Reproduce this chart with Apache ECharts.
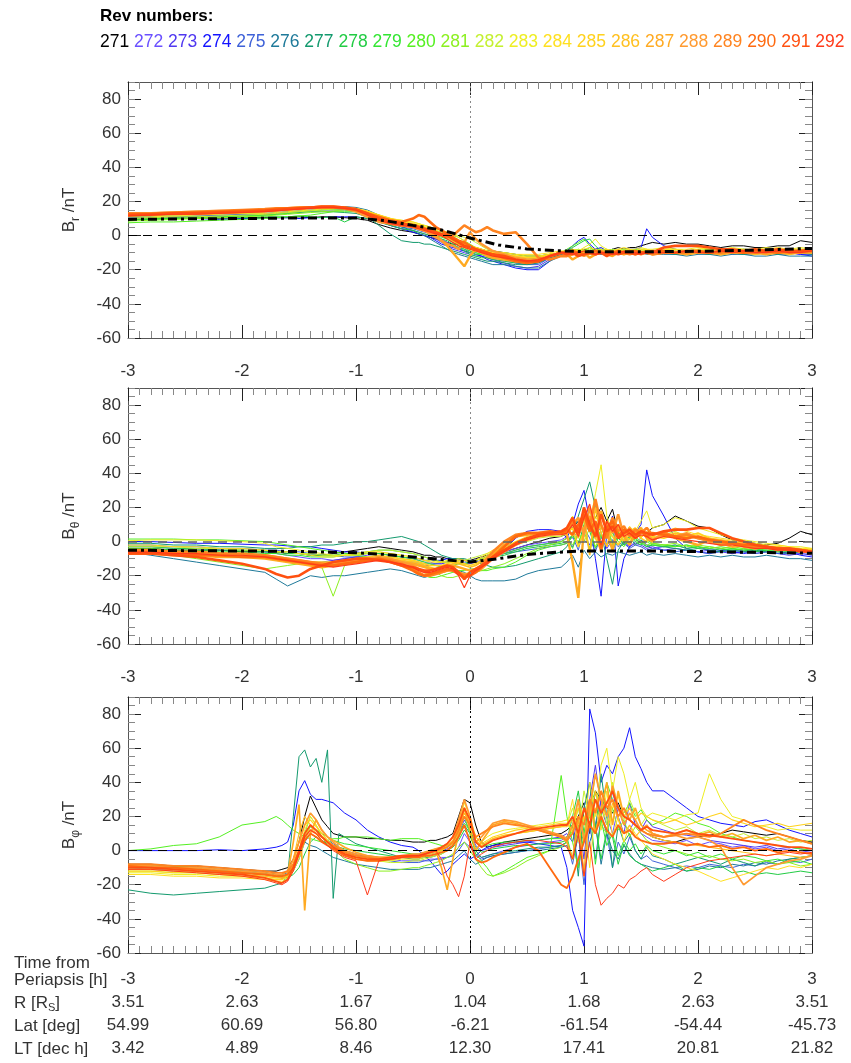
<!DOCTYPE html>
<html><head><meta charset="utf-8">
<script src="https://cdn.jsdelivr.net/npm/echarts/dist/echarts.min.js"></script>
<style>html,body{margin:0;padding:0;background:#fff}#c{width:851px;height:1063px}</style>
</head><body><div id="c"></div><script>
// ---------- time grids (hours from periapsis) ----------
const T12 = [-3,-2.8,-2.6,-2.4,-2.2,-2,-1.8,-1.7,-1.6,-1.5,-1.4,-1.3,-1.2,-1.1,-1,-0.9,-0.8,-0.7,-0.6,-0.5,-0.45,-0.4,-0.35,-0.3,-0.25,-0.2,-0.15,-0.1,-0.05,0,0.05,0.1,0.15,0.2,0.3,0.4,0.5,0.6,0.7,0.8,0.85,0.9,0.95,1,1.05,1.1,1.15,1.2,1.25,1.3,1.35,1.4,1.45,1.5,1.55,1.6,1.7,1.8,1.9,2,2.1,2.2,2.3,2.4,2.5,2.6,2.7,2.8,2.9,3];
const T3 = [-3,-2.8,-2.6,-2.4,-2.2,-2,-1.8,-1.7,-1.65,-1.6,-1.55,-1.5,-1.45,-1.4,-1.35,-1.3,-1.25,-1.2,-1.15,-1.1,-1,-0.9,-0.8,-0.7,-0.6,-0.5,-0.45,-0.4,-0.35,-0.3,-0.25,-0.2,-0.15,-0.1,-0.05,0,0.05,0.1,0.15,0.2,0.3,0.4,0.5,0.6,0.7,0.8,0.85,0.9,0.95,1,1.05,1.1,1.15,1.2,1.25,1.3,1.35,1.4,1.45,1.5,1.55,1.6,1.7,1.8,1.9,2,2.1,2.2,2.3,2.4,2.5,2.6,2.7,2.8,2.9,3];
const revs = [271,272,273,274,275,276,277,278,279,280,281,282,283,284,285,286,287,288,289,290,291,292];
const revColors = ['#000000','#6a50ff','#5038f0','#1414ff','#3f62d8','#1f7a9a','#139a6e','#22cc44','#33e633','#55f022','#8cf020','#c4f030','#eeee22','#ffe020','#ffd21e','#ffc020','#ffaa22','#ff9a30','#ff8420','#ff6a10','#ff5010','#ff3a1a'];
const xTicks = [-3,-2,-1,0,1,2,3];
const rowR = ['3.51','2.63','1.67','1.04','1.68','2.63','3.51'];
const rowLat = ['54.99','60.69','56.80','-6.21','-61.54','-54.44','-45.73'];
const rowLT = ['3.42','4.89','8.46','12.30','17.41','20.81','21.82'];
const modelT = [-3,-2.5,-2,-1.5,-1,-0.75,-0.5,-0.25,0,0.25,0.5,0.75,1,1.5,2,2.5,3];
const modelBr = [9.5,9.8,10,10.3,10.3,8.8,6,3.3,-1.4,-5.5,-7.8,-8.8,-9.4,-9.5,-9.2,-8.5,-7.5];
const modelBt = [-5,-5.3,-5.5,-5.8,-6.5,-7.5,-9,-10.5,-12,-10,-7.5,-6.3,-5.5,-5.5,-5.8,-6.3,-6.8];

// ---------- B_r ----------
const br271=[9.5,9.8,10,10,10.2,10.5,10.5, 10.5,10.5,11,10.5,11,11,10.5,10,9,6.5,4.5,3,2, 1,0,-1,-2,-3,-4,-5,-5,-6,-6,-7,-8,-9,-9, -10,-11,-12,-12,-11,-10, -9,-8,-9,-8,-9,-8,-8,-9,-8,-7,-8,-7,-7,-6,-5,-4, -5,-4,-5,-5,-6,-7,-6,-6,-7,-7,-6,-6,-3,-4];
const br272=[11,11.5,12,12,12.5,13,13, 13.5,14,14.5,15,15.5,16,16,15.5,14,11,8,6,5, 4,3,1,0,-2,-4,-6,-8,-9,-10,-11,-12,-13,-14, -15,-16,-17,-16,-13,-11, -10,-9,-10,-9,-10,-9,-9,-10,-9,-10,-9,-10,-9,-10,-9,-10, -10,-10,-9,-10,-10,-9,-10,-10,-9,-10,-10,-9,-10,-10];
const br273=[10,10.5,11,11,11.5,12,12.5, 13,13.5,14,14.5,15,15,15,14,12,9,6,4,3, 2,1,0,-2,-4,-6,-8,-9,-10,-11,-12,-12,-13,-14, -16,-18,-19,-18,-14,-11, -10,-9,-11,-10,-9,-10,-11,-9,-10,-9,-10,-9,-10,-11,-10,-9, -10,-11,-10,-10,-9,-10,-11,-10,-10,-11,-10,-10,-11,-11];
const br274=[10,10,10,10,9.5,10,10, 10.5,10.5,10,10.5,10.5,11,11,11,10,8,6,4,2, 1,0,-1,-3,-5,-6,-7,-8,-9,-10,-11,-12,-14,-15, -17,-19,-20,-20,-15,-10, -9,-6,-3,-1,-5,-8,-7,-9,-8,-10,-9,-8,-8,-7,4,-1, -6,-8,-9,-10,-9,-10,-9,-8,-9,-10,-9,-10,-11,-12];
const br275=[10.5,11,11,11.5,12,12.5,13, 13.5,14,14.5,15,15.5,16,16,15.5,13,10,7,5,4, 3,2,1,-1,-3,-5,-6,-7,-8,-9,-10,-11,-12,-13, -14,-16,-17,-17,-13,-11, -10,-11,-10,-9,-10,-11,-10,-10,-11,-10,-9,-10,-11,-10,-10,-11, -10,-11,-11,-10,-11,-11,-10,-11,-11,-10,-11,-11,-10,-11];
const br276=[11,11.5,12,12.5,13,13.5,14, 14.5,15,15.5,16,16.5,17,17,16.5,15,12,8,5,3, 1,0,-2,-4,-6,-8,-10,-11,-12,-13,-14,-15,-16,-17, -17,-18,-19,-19,-15,-12, -11,-10,-11,-12,-11,-10,-11,-10,-11,-11,-10,-11,-11,-10,-11,-11, -11,-11,-12,-11,-11,-12,-11,-11,-12,-12,-11,-12,-12,-12];
const br277=[10,10,10.5,11,11,11.5,12, 12.5,13,13.5,14,14,14,13.5,13,11,6,1,-3,-4, -4,-5,-5,-6,-7,-8,-9,-10,-11,-12,-13,-14,-15,-15, -16,-17,-17,-16,-13,-11, -10,-11,-10,-11,-10,-11,-10,-11,-10,-10,-11,-10,-10,-11,-10,-10, -10,-11,-10,-10,-11,-10,-10,-11,-10,-10,-11,-10,-10,-11];
const br278=[9,9.5,10,10,10.5,10.5,11, 11,11,11.5,11,10.5,11,8,11,10,8,6,4,3, 2,1,0,-1,-2,-3,-5,-7,-9,-11,-12,-13,-13,-14, -15,-16,-16,-15,-12,-10, -9,-7,-5,-3,-2,-6,-9,-8,-10,-9,-8,-10,-9,-8,-9,-10, -10,-9,-10,-10,-9,-10,-10,-9,-10,-10,-9,-10,-10,-10];
const br279=[9.5,10,10,10.5,11,11.5,12, 12.5,13,14,14.5,15,15.5,15.5,15,13,10,8,6,5, 4,3,2,0,-1,-2,-4,-6,-8,-10,-11,-11,-12,-12, -13,-14,-15,-14,-12,-10, -9,-8,-10,-9,-7,-9,-10,-9,-8,-9,-10,-9,-9,-10,-9,-9, -9,-10,-9,-9,-10,-9,-9,-10,-9,-9,-10,-9,-9,-10];
const br280=[7.5,8,8,8.5,9,9.5,10, 10.5,11,11.5,12,13,14,14,14,13,11,8,6,5, 4,3,2,1,0,-1,-3,-5,-7,-9,-10,-11,-12,-12, -13,-14,-14,-13,-11,-10, -8,-6,-4,-2,-6,-9,-8,-10,-9,-8,-10,-9,-8,-9,-10,-9, -9,-10,-9,-9,-10,-9,-8,-9,-10,-9,-9,-10,-9,-9];
const br281=[8.5,9,9.5,10,10.5,11,11.5, 12,12.5,13,13.5,14,14.5,15,14.5,13,11,9,7,6, 5,5,4,3,2,1,0,-1,-3,-5,-7,-8,-9,-10, -11,-12,-13,-13,-11,-10, -10,-9,-8,-9,-10,-9,-8,-9,-10,-9,-8,-9,-9,-8,-9,-9, -9,-8,-9,-9,-8,-9,-9,-8,-9,-9,-8,-9,-9,-8];
const br282=[10,10.5,11,11,11.5,12,12.5, 13,13.5,14,14.5,15,15.5,16,15.5,14,12,10,8,7, 6,6,5,4,3,2,1,0,-1,-2,-4,-6,-8,-9, -10,-11,-12,-12,-11,-10, -10,-9,-8,-9,-8,-9,-8,-9,-8,-9,-8,-8,-9,-8,-8,-9, -8,-8,-9,-8,-8,-9,-8,-8,-9,-8,-8,-9,-8,-8];
const br283=[11,11,11.5,12,12.5,13,13, 13.5,14,14.5,15,15.5,16,16,15.5,14,12,10,9,8, 7,6,5,4,3,2,1,-1,-3,-6,-9,-10,-11,-11, -11,-12,-12,-12,-11,-10, -9,-8,-9,-7,-5,-2,-6,-8,-9,-8,-9,-8,-8,-7,-8,-8, -7,-8,-8,-7,-8,-8,-7,-8,-8,-7,-8,-8,-7,-8];
const br284=[11.5,12,12,12.5,13,13.5,14, 14.5,15,15.5,16,16,16.5,16.5,16,14.5,12,10,9,8, 7,6,5,4,3,1,-1,-3,-5,-7,-8,-9,-10,-10, -10,-11,-11,-11,-10,-9, -9,-8,-9,-8,-7,-8,-9,-8,-9,-8,-7,-8,-9,-8,-8,-9, -8,-8,-9,-8,-7,-8,-8,-9,-8,-8,-7,-8,-8,-8];
const br285=[12,12,12.5,13,13,13.5,14, 14.5,15,15.5,16,16,16.5,16,15.5,14,12,10,8,7, 6,5,4,3,1,-1,-2,-4,-5,-6,-7,-8,-9,-10, -11,-12,-13,-13,-11,-10, -10,-9,-10,-9,-10,-9,-10,-9,-9,-10,-9,-9,-10,-9,-9,-10, -9,-9,-10,-9,-9,-10,-9,-9,-10,-9,-9,-10,-9,-9];
const br286=[12,12.5,13,13,13.5,14,14.5, 15,15,15.5,16,16.5,16.5,16,15,13,10,8,6,5, 4,3,2,1,0,-1,-3,-5,-7,-8,-9,-10,-11,-12, -13,-14,-15,-15,-12,-10, -10,-11,-10,-10,-11,-10,-10,-11,-10,-10,-11,-10,-10,-11,-10,-10, -10,-10,-11,-10,-10,-11,-10,-10,-11,-10,-10,-11,-10,-10];
const br287=[12.5,12.5,13,13.5,14,14.5,15, 15.5,16,16,16.5,17,17,16.5,15,12,9,7,6,5, 4,3,2,0,-3,-6,-10,-14,-18,-12,-8,-10,-12,-13, -14,-15,-16,-15,-12,-10, -11,-14,-12,-10,-13,-11,-10,-11,-12,-10,-11,-10,-11,-10,-10,-11, -10,-10,-11,-10,-10,-11,-10,-10,-10,-11,-10,-10,-10,-10];
const br288=[13,13,13.5,14,14,14.5,15, 15.5,16,16.5,16.5,17,17,16,14,11,8,7,6,5, 4,3,1,-1,-3,-5,-6,-8,-4,2,-2,-5,-7,-9, -11,-13,-14,-14,-12,-10, -10,-11,-10,-12,-10,-11,-9,-10,-11,-10,-10,-9,-10,-11,-10,-10, -10,-10,-9,-10,-10,-9,-10,-10,-9,-10,-10,-9,-10,-9];
const br289=[13,13,13.5,14,14.5,15,15.5, 16,16,16.5,16.5,16.5,16.5,16,15,13,10,7,6,6, 5,4,3,1,0,-1,0,3,6,4,2,3,5,3, 1,2,-5,-13,-14,-12, -12,-11,-10,-11,-10,-11,-10,-10,-11,-10,-10,-11,-10,-10,-10,-11, -10,-10,-10,-9,-10,-10,-9,-10,-10,-9,-9,-10,-9,-9];
const br290=[12.5,12.5,13,13.5,14,14.5,15, 15.5,16,16,16.5,16.5,16.5,16,15,13,11,9,8,10, 12,11,8,5,3,1,-1,-3,-4,-6,-8,-9,-10,-11, -13,-15,-16,-15,-12,-10, -10,-9,-10,-11,-10,-9,-10,-11,-10,-9,-10,-10,-9,-10,-10,-9, -9,-10,-9,-9,-10,-9,-9,-10,-9,-9,-10,-9,-9,-9];
const br291=[12,12.5,13,13,13.5,14,14.5, 15,15.5,16,16.5,17,17,16.5,15.5,13,10,8,7,6, 5,4,3,2,1,0,-2,-4,-6,-7,-8,-9,-10,-11, -12,-14,-15,-15,-12,-10, -11,-10,-12,-11,-10,-11,-10,-12,-10,-11,-10,-10,-11,-10,-10,-10, -7,-6,-6,-6,-7,-8,-8,-9,-8,-9,-8,-9,-9,-8];
const br292=[11.5,12,12.5,12.5,13,13.5,14, 14.5,15,15.5,16,16.5,16.5,16,15,12,9,7,6,5, 4,3,2,1,0,-2,-4,-6,-7,-8,-9,-10,-11,-12, -13,-14,-15,-14,-12,-10, -10,-11,-10,-9,-10,-11,-10,-10,-11,-10,-9,-10,-10,-11,-10,-10, -10,-10,-9,-10,-10,-9,-10,-9,-10,-10,-9,-10,-10,-9];

// ---------- B_theta ----------
const bt271=[-4,-4,-5,-5,-5,-6,-6, -6,-7,-7,-8,-8,-7,-6,-5,-4,-3,-4,-5,-6, -7,-8,-8,-9,-9,-10,-10,-10,-11,-11,-10,-9,-8,-7, -6,-4,-2,0,2,3, 5,8,12,15,10,14,20,12,19,5,3,2,4,3,5,8, 10,15,12,9,8,4,1,0,-1,-2,-1,2,6,4];
const bt272=[-3,-3,-4,-4,-5,-5,-6, -7,-8,-9,-10,-10,-11,-10,-9,-8,-7,-8,-9,-10, -11,-12,-12,-13,-13,-12,-12,-11,-11,-12,-11,-10,-9,-8, -6,-4,-2,-1,0,1, 3,2,6,4,-2,5,8,3,0,2,-1,-3,0,2,-2,-4, -3,-2,-4,-3,-5,-4,-6,-5,-4,-6,-5,-6,-7,-6];
const bt273=[-5,-5,-6,-6,-7,-7,-8, -9,-10,-11,-12,-12,-11,-10,-9,-9,-10,-11,-12,-13, -13,-14,-14,-13,-13,-12,-12,-12,-13,-13,-12,-11,-10,-9, -7,-5,-3,-2,-1,0, 2,-3,4,1,-2,6,3,-4,1,-2,0,-3,-1,-2,-4,-3, -5,-4,-5,-6,-5,-6,-7,-6,-7,-6,-7,-8,-7,-8];
const bt274=[0,0,-0.5,-1,-1,-1.5,-2, -2,-2.5,-3,-3,-4,-5,-6,-6,-7,-7,-8,-9,-10, -10,-11,-11,-11,-11,-10,-10,-10,-11,-12,-11,-10,-9,-8, -5,2,6,7,7,6, 2,10,22,30,12,-10,-32,5,15,-26,-10,-3,5,10,42,27, 15,2,-4,-6,-7,-5,-6,-7,-6,-5,-7,-6,-8,-9];
const bt275=[-2,-2,-3,-3,-4,-4,-5, -5,-6,-6,-7,-8,-8,-9,-9,-10,-11,-11,-12,-12, -12,-13,-13,-13,-12,-12,-11,-11,-12,-12,-11,-10,-9,-8, -7,-6,-5,-4,-3,-2, -1,3,-5,8,2,-6,4,-2,1,-3,-1,-4,-2,-3,-5,-4, -5,-6,-5,-6,-7,-6,-5,-6,-7,-6,-7,-7,-6,-7];
const bt276=[-6,-8,-10,-12,-14,-16,-18, -22,-26,-23,-20,-21,-20,-20,-19,-18,-17,-16,-17,-19, -20,-21,-20,-19,-18,-17,-16,-17,-18,-20,-22,-23,-23,-23, -23,-22,-19,-17,-16,-15, -12,-8,-15,-5,-10,-6,-9,-7,-8,-6,-7,-8,-7,-6,-8,-7, -8,-7,-8,-9,-8,-9,-8,-9,-9,-8,-9,-10,-10,-11];
const bt277=[-1,-1,-2,-2,-3,-3,-4, -4,-4,-3,-3,-2,-2,-1,0,0,1,2,3,1, 0,-2,-4,-6,-8,-9,-10,-10,-10,-11,-12,-13,-14,-15, -15,-14,-12,-10,-8,-6, -3,5,15,25,35,20,5,-10,-25,-5,0,3,-2,1,-3,-2, -3,-4,-5,-4,-5,-6,-5,-6,-5,-6,-6,-7,-6,-7];
const bt278=[-3,-3,-4,-4,-5,-5,-6, -6,-7,-7,-8,-8,-8,-7,-7,-6,-5,-5,-6,-7, -8,-9,-10,-11,-12,-12,-12,-13,-13,-12,-11,-10,-10,-9, -8,-6,-4,-3,-2,-1, 0,4,-2,10,6,-4,2,8,-1,3,-2,0,2,-1,-3,-2, -3,-2,-4,-3,-4,-5,-4,-5,-6,-5,-6,-5,-6,-6];
const bt279=[-4,-4,-5,-5,-6,-6,-7, -7,-8,-8,-9,-9,-9,-8,-8,-7,-7,-8,-9,-10, -11,-12,-13,-14,-15,-15,-14,-13,-13,-12,-11,-10,-9,-8, -7,-5,-3,-2,-1,0, 2,-4,6,12,-6,8,-3,4,-5,2,-1,3,0,-2,1,-1, -2,-3,-2,-4,-3,-4,-5,-4,-5,-4,-5,-6,-5,-6];
const bt280=[1.5,1.5,1.5,1,1,0.5,0, -1,-2,-3,-4,-5,-6,-7,-8,-9,-10,-12,-14,-16, -18,-20,-21,-21,-20,-19,-18,-17,-17,-16,-16,-17,-17,-16, -15,-12,-8,-5,-3,-2, -1,3,0,6,-4,10,3,-2,5,0,-3,2,1,-1,0,-2, -2,-3,-2,-3,-4,-3,-4,-5,-4,-5,-5,-4,-5,-5];
const bt281=[-6,-7,-8,-10,-12,-14,-16, -15,-14,-13,-14,-15,-32,-14,-12,-10,-9,-9,-10,-11, -12,-14,-16,-18,-20,-21,-21,-20,-19,-18,-18,-17,-16,-15, -13,-10,-7,-4,-2,0, 2,-2,5,0,8,-3,4,12,-2,6,1,-1,3,0,-2,-1, -2,-1,-3,-2,-3,-4,-3,-4,-3,-4,-5,-4,-5,-5];
const bt282=[-3,-3,-3,-4,-4,-5,-5, -6,-6,-7,-7,-8,-8,-8,-7,-6,-5,-5,-6,-7, -8,-9,-10,-11,-12,-12,-12,-11,-11,-10,-9,-8,-7,-6, -4,-2,0,2,3,3, 5,8,3,12,18,6,10,2,8,4,1,5,3,7,4,2, 4,6,3,2,1,0,-1,-2,-2,-3,-3,-4,-4,-5];
const bt283=[0.5,1,1,1,0.5,0,-1, -3,-4,-5,-6,-7,-8,-8,-8,-7,-6,-7,-8,-9, -10,-11,-11,-12,-12,-11,-11,-10,-11,-12,-11,-10,-8,-6, -4,0,3,5,5,5, 8,15,5,20,10,28,45,15,5,10,3,8,6,12,18,8, 10,14,12,8,6,4,2,1,0,-1,-2,-3,-3,-4];
const bt284=[-2,-2,-3,-3,-4,-4,-5, -6,-6,-7,-8,-9,-9,-8,-7,-6,-6,-7,-8,-9, -10,-11,-12,-12,-12,-12,-11,-11,-11,-12,-11,-9,-7,-5, -3,0,2,4,5,5, 6,3,10,5,-5,15,8,2,12,6,3,9,5,2,6,4, 5,8,6,4,3,2,1,0,-1,-2,-2,-3,-4,-4];
const bt285=[-5,-5,-6,-6,-7,-7,-8, -9,-10,-11,-12,-12,-12,-11,-10,-9,-8,-9,-10,-11, -12,-13,-14,-14,-14,-13,-12,-12,-13,-14,-13,-11,-9,-7, -4,-1,1,3,4,4, 5,8,-3,6,12,2,-5,8,3,-2,4,1,6,2,0,3, 2,4,3,5,2,0,-1,-2,-3,-4,-3,-4,-5,-5];
const bt286=[-6,-6,-7,-7,-8,-8,-9, -10,-11,-12,-13,-14,-13,-12,-11,-10,-9,-10,-11,-12, -13,-14,-15,-16,-15,-14,-13,-13,-14,-15,-14,-12,-10,-8, -5,-2,1,3,4,5, 6,10,2,15,-8,20,5,-3,10,4,0,6,8,3,5,2, 3,5,4,3,2,1,0,-1,-2,-3,-3,-4,-5,-5];
const bt287=[-7,-7,-8,-8,-9,-9,-10, -11,-12,-13,-14,-15,-14,-13,-12,-11,-10,-11,-12,-13, -14,-15,-16,-16,-15,-14,-14,-15,-16,-17,-16,-14,-11,-8, -2,3,4,5,5,5, 4,-12,-33,8,15,2,18,6,-5,10,3,-2,5,8,2,0, 6,2,0,-2,1,-1,-3,-2,-4,-3,-5,-4,-6,-6];
const bt288=[-6,-6,-6,-7,-7,-8,-8, -9,-10,-11,-12,-13,-13,-12,-11,-10,-9,-10,-12,-14, -16,-18,-19,-19,-18,-17,-17,-18,-19,-19,-18,-16,-13,-10, -6,-2,1,3,4,5, 6,10,14,4,20,8,-6,12,5,16,3,8,2,6,4,1, 4,3,5,2,0,-2,-1,-3,-4,-3,-5,-4,-6,-6];
const bt289=[-5,-5,-6,-6,-7,-7,-8, -9,-10,-11,-12,-13,-14,-13,-12,-11,-10,-11,-13,-16, -18,-20,-20,-19,-18,-17,-16,-18,-20,-19,-17,-14,-10,-6, 0,4,5,5,5,5, 6,12,5,18,8,25,10,2,14,6,9,3,7,5,8,4, 5,3,4,2,1,0,-1,-2,-3,-3,-4,-5,-5,-6];
const bt290=[-7,-7,-7,-8,-8,-9,-9, -10,-11,-12,-13,-14,-14,-13,-12,-11,-10,-12,-14,-17, -19,-20,-19,-18,-17,-16,-17,-19,-21,-20,-18,-15,-12,-9, -3,3,5,5,6,5, 7,4,10,16,6,12,-4,8,12,3,7,5,2,6,3,5, 4,3,2,3,1,0,-1,-2,-2,-3,-4,-4,-5,-6];
const bt291=[-7,-7,-8,-9,-11,-13,-16, -19,-21,-20,-16,-14,-12,-11,-10,-10,-11,-12,-14,-15, -16,-17,-17,-16,-15,-14,-15,-18,-22,-18,-16,-14,-12,-9, -5,-1,2,4,5,6, 8,14,5,20,10,3,16,6,9,2,5,7,4,6,5,4, 6,7,7,8,8,5,2,0,-2,-3,-4,-4,-5,-6];
const bt292=[-6,-6,-7,-7,-8,-8,-9, -10,-11,-12,-13,-14,-15,-14,-13,-12,-11,-12,-13,-15, -17,-18,-18,-17,-16,-15,-16,-20,-27,-20,-17,-15,-13,-10, -6,-2,1,3,4,4, 5,10,3,14,22,8,-2,12,6,10,3,5,2,4,3,1, 3,2,1,0,-1,-2,-2,-3,-4,-4,-5,-5,-6,-6];

// ---------- B_phi ----------
const bp271=[-8,-8,-9,-9,-10,-11,-12, -12,-11,-10,-5,5,20,32,25,18,14,10,9,8,8,7,7,6,6,5, 5,5,6,6,7,8,10,20,30,28,15,5,2,3, 5,6,7,8,9,10, 12,15,20,28,10,35,30,25,22,28,20,18,15,12,10,8, 6,5,7,8,9,10,12,11,10,9,10,8,6,5];
const bp272=[-10,-11,-11,-12,-12,-13,-14, -15,-16,-16,-10,0,10,15,12,8,5,3,2,0,-2,-3,-4,-5,-6,-6, -6,-6,-5,-5,-4,-4,-3,2,10,5,-2,-4,-3,-2, 0,2,3,4,5,6, 8,15,-10,25,40,15,30,20,10,25,15,12,18,10,8,6, 5,4,6,3,5,4,2,3,1,2,0,1,-1,0];
const bp273=[-9,-9,-10,-10,-11,-12,-13, -14,-15,-15,-12,-5,5,10,8,6,4,2,0,-2,-3,-4,-5,-5,-4,-3, -3,-2,-2,-1,0,1,3,10,18,12,3,0,1,2, 3,4,5,6,7,8, 10,5,20,-5,30,50,25,15,35,20,10,28,15,12,18,14, 12,10,9,8,6,5,4,3,2,3,1,2,1,0];
const bp274=[0,0,0,0,0.5,0,1, 2,3,5,15,35,41,33,30,30,29,28,25,22,18,12,8,5,3,2, 0,-3,-6,-10,-14,-12,-8,-5,-2,-5,-3,0,2,3, 4,5,5,4,3,2, -10,-35,-45,-56,83,69,40,50,45,55,60,72,55,48,40,35, 35,30,25,20,18,16,15,14,17,18,15,12,10,8];
const bp275=[-11,-11,-12,-12,-13,-13,-14, -15,-15,-14,-10,-2,8,12,10,8,6,4,2,0,-2,-4,-5,-6,-7,-7, -7,-6,-6,-5,-5,-4,-3,0,5,2,-3,-5,-4,-3, -2,-1,0,1,2,3, 5,-8,10,-20,15,-5,20,10,-10,5,-2,8,0,-5,-3,-6, -8,-10,-9,-10,-8,-9,-10,-8,-9,-7,-8,-6,-7,-5];
const bp276=[-10,-10,-11,-11,-12,-12,-13, -14,-14,-13,-8,0,5,3,2,0,-2,-4,-5,-6,-8,-9,-10,-11,-11,-11, -11,-10,-10,-9,-8,-7,-6,-3,0,-5,-8,-6,-4,-3, -2,-1,0,0,1,2, 3,-5,8,-12,5,15,-8,10,0,-5,3,-2,-6,-8,-9,-10, -11,-10,-12,-11,-9,-10,-8,-9,-7,-8,-6,-5,-4,-3];
const bp277=[-23,-25,-26,-25,-24,-23,-22, -20,-19,-15,20,55,59,49,54,40,59,-28,10,8,4,2,0,-2,-4,-5, -5,-4,-4,-3,-2,0,3,8,15,10,0,-4,-3,-2, -1,0,1,2,2,3, 5,15,-15,25,40,10,45,20,-10,15,5,10,0,-5,2,-3, -5,-8,-6,-4,-6,-8,-5,-7,-9,-6,-8,-5,-4,-3];
const bp278=[-9,-10,-10,-11,-12,-13,-14, -15,-16,-16,-14,-10,-2,5,8,6,4,3,2,1,0,-1,-2,-3,-4,-4, -4,-3,-3,-2,-1,0,2,6,12,8,2,-1,0,1, 2,3,3,4,4,5, 6,20,35,10,30,15,-5,12,8,-8,4,-3,-6,-8,-10,-12, -10,-8,-12,-10,-11,-9,-13,-12,-14,-13,-14,-13,-12,-13];
const bp279=[-8,-9,-9,-10,-11,-12,-13, -14,-15,-14,-8,0,8,14,12,10,8,6,5,4,3,2,1,0,-1,-2, -2,-1,0,1,2,3,5,10,16,12,5,2,3,4, 5,5,6,6,7,7, 8,-5,15,5,25,-8,18,3,10,-3,6,0,4,-2,3,0, -2,0,-3,-1,-4,-2,-5,-3,-4,-6,-5,-7,-6,-8];
const bp280=[0,1,3,4,8,15,17, 20,18,15,12,10,8,7,6,5,6,7,7,8,8,8,7,6,7,7, 7,6,5,4,3,2,4,12,20,10,-2,-6,-10,-15, -12,-8,-4,-2,0,44, 20,5,-10,10,25,35,20,40,30,25,22,28,20,24,18,15, 18,22,20,16,14,10,8,6,5,4,3,2,1,0];
const bp281=[-10,-10,-11,-11,-12,-13,-14, -15,-15,-14,-10,0,10,20,15,8,5,2,-2,-5,-8,-10,-12,-12,-11,-10, -10,-9,-8,-7,-6,-4,-2,2,5,0,-5,-10,-14,-15, -13,-10,-6,-3,0,2, 5,12,25,8,20,30,15,10,25,12,18,8,14,10,6,4, 2,0,-2,-4,-3,-5,-6,-5,-7,-6,-8,-7,-9,-8];
const bp282=[-12,-12,-13,-13,-14,-14,-15, -16,-16,-15,-12,-5,5,15,12,8,5,3,1,-1,-3,-5,-6,-7,-7,-6, -6,-5,-4,-3,-2,0,3,12,25,15,5,2,4,6, 8,10,11,12,13,14, 15,25,10,35,20,45,30,15,40,25,18,30,22,15,20,18, 15,12,14,10,12,9,8,10,7,8,6,7,5,6];
const bp283=[-13,-13,-14,-14,-15,-15,-16, -17,-17,-16,-10,0,12,20,15,10,6,3,0,-2,-4,-5,-6,-6,-5,-5, -5,-4,-3,-2,0,2,5,15,28,20,8,5,8,10, 12,13,14,15,16,17, 18,10,30,15,40,20,50,60,35,55,45,30,40,25,20,22, 20,18,21,22,45,30,20,18,15,14,12,13,12,12];
const bp284=[-14,-14,-15,-15,-16,-16,-17, -18,-18,-17,-12,-3,8,15,12,8,4,2,0,-2,-4,-5,-5,-4,-3,-3, -3,-2,-1,0,1,2,4,10,20,15,6,3,5,7, 9,10,11,12,13,14, 15,30,5,20,-10,25,12,35,8,20,5,15,10,6,2,-2, -5,-8,-10,-12,-15,-18,-16,-14,-12,-10,-11,-9,-10,-8];
const bp285=[-12,-12,-13,-13,-14,-15,-16, -17,-17,-15,-8,5,15,18,14,10,6,3,1,-1,-3,-4,-5,-5,-4,-4, -4,-3,-2,-1,0,2,5,15,25,18,8,4,6,8, 10,12,13,14,15,16, 16,12,25,18,30,22,35,28,25,32,20,25,18,22,20,18, 16,18,15,17,20,22,18,16,14,15,16,14,15,16];
const bp286=[-11,-11,-12,-12,-13,-14,-15, -16,-16,-14,-5,10,20,15,10,6,3,1,-1,-3,-5,-6,-6,-5,-4,-3, -3,-2,-1,0,1,3,6,14,22,16,6,3,5,7, 9,10,11,12,13,14, 14,18,10,25,15,35,20,12,28,18,10,15,8,12,10,8, 6,5,4,3,2,1,0,-1,-2,-3,-2,-3,-4,-3];
const bp287=[-10,-10,-11,-11,-12,-13,-14, -15,-16,-14,5,27,-35,10,18,12,8,6,4,2,-1,-3,-4,-4,-3,-3, -3,-2,-1,0,-10,-23,-5,10,25,12,0,5,10,15, 17,16,14,12,10,8, 5,-5,20,-15,30,10,25,40,15,35,20,18,25,15,12,10, 8,10,12,9,11,8,10,7,9,6,8,5,6,4];
const bp288=[-9,-9,-10,-10,-11,-12,-13, -14,-14,-12,-5,5,15,22,18,12,8,5,2,0,-2,-3,-4,-4,-3,-2, -2,-1,0,1,2,4,8,18,30,20,5,8,12,16, 18,17,15,13,11,9, 7,15,30,5,25,45,30,20,38,25,15,22,18,12,15,10, 8,9,7,8,6,2,-10,-20,-15,-10,-8,-6,-5,-3];
const bp289=[-8,-8,-9,-9,-10,-11,-12, -13,-13,-12,-8,0,8,12,10,8,5,3,1,-1,-3,-4,-5,-5,-4,-3, -3,-2,-1,0,1,2,5,12,20,15,8,10,12,14, 16,15,14,12,10,8, 6,10,20,15,30,22,35,25,30,20,25,18,15,12,10,9, 8,9,10,9,8,10,14,18,15,12,10,8,6,4];
const bp290=[-9,-10,-10,-11,-12,-13,-14, -15,-15,-14,-10,-2,6,10,8,5,3,1,-1,-3,-5,-6,-6,-5,-4,-4, -4,-3,-3,-2,-1,0,3,8,15,5,-5,-7,-6,-4, -1,2,4,0,-10,-20, -22,-15,-5,5,15,10,20,12,8,15,10,12,8,6,5,4, 4,5,3,4,2,3,1,2,0,1,-1,0,-1,-2];
const bp291=[-10,-10,-11,-12,-13,-14,-16, -18,-19,-17,-10,0,10,15,12,8,5,2,0,-2,-4,-5,-5,-4,-3,-3, -3,-2,-1,0,2,4,8,15,25,18,5,2,4,6, 8,10,12,13,14,15, 15,20,10,25,15,30,22,28,35,25,20,18,15,12,14,12, 11,10,12,10,9,8,7,6,5,4,3,2,2,1];
const bp292=[-11,-11,-12,-13,-14,-15,-17, -19,-20,-18,-12,-2,8,12,10,6,3,0,-2,-4,-6,-26,-6,-5,-4,-3, -3,-2,-1,0,-5,-15,-20,-27,-15,5,-5,-2,0,2, 4,5,6,6,5,4, 2,-5,10,-15,5,-20,-32,-28,-25,-20,-22,-17,-15,-12,-10,-14, -18,-14,-10,-8,-6,-5,-4,-3,-2,-3,-2,-1,-2,-1];

const BR = [br271,br272,br273,br274,br275,br276,br277,br278,br279,br280,br281,br282,br283,br284,br285,br286,br287,br288,br289,br290,br291,br292];
const BT = [bt271,bt272,bt273,bt274,bt275,bt276,bt277,bt278,bt279,bt280,bt281,bt282,bt283,bt284,bt285,bt286,bt287,bt288,bt289,bt290,bt291,bt292];
const BP = [bp271,bp272,bp273,bp274,bp275,bp276,bp277,bp278,bp279,bp280,bp281,bp282,bp283,bp284,bp285,bp286,bp287,bp288,bp289,bp290,bp291,bp292];

// ---------- styling ----------
const lineWidths = [1,1,1,1,1,1,1,1,1,1,1,1,1,1,1.6,1.6,2.4,2.4,2.6,2.6,2.6,1.2];
const panelWidthScale = [1, 1, 0.7];
const FONT = '"Liberation Sans", Arial, Helvetica, sans-serif';
const GRID_TOPS = [82, 388, 697];
const GRID_LEFT = 128, GRID_W = 684, GRID_H = 256;

const chart = echarts.init(document.getElementById('c'), null, {renderer: 'canvas'});

const grids = GRID_TOPS.map(t => ({left: GRID_LEFT, top: t, width: GRID_W, height: GRID_H, containLabel: false, outerBoundsMode: 'none'}));
const lblStyle = {fontFamily: FONT, fontSize: 17, color: '#333'};

const xAxes = [], yAxes = [];
function baseAxis() {
  return {
    axisLine: {show: true, onZero: false, lineStyle: {color: '#555', width: 1}},
    splitLine: {show: false}, minorSplitLine: {show: false}
  };
}
GRID_TOPS.forEach((t, gi) => {
  ['bottom', 'top'].forEach(pos => {
    const ax = Object.assign(baseAxis(), {
      type: 'value', gridIndex: gi, position: pos, min: -3, max: 3, interval: 1,
      axisTick: {show: true, inside: true, length: 13, lineStyle: {color: '#222', width: 1}},
      minorTick: {show: true, splitNumber: 10, length: 7, lineStyle: {color: '#888', width: 1}},
      axisLabel: {show: false}
    });
    if (pos === 'bottom') {
      if (gi < 2) {
        ax.axisLabel = Object.assign({show: true, margin: 25, formatter: v => String(Math.round(v))}, lblStyle);
      } else {
        ax.axisLabel = Object.assign({show: true, margin: 15, lineHeight: 23, verticalAlign: 'top',
          formatter: v => { const i = xTicks.indexOf(Math.round(v)); return i < 0 ? '' : xTicks[i] + '\n' + rowR[i] + '\n' + rowLat[i] + '\n' + rowLT[i]; }
        }, lblStyle);
      }
    }
    xAxes.push(ax);
  });
  const names = [
    '{b|B}{s|r}{b| /nT}',
    '{b|B}{s|θ}{b| /nT}',
    '{b|B}{s|φ}{b| /nT}'
  ];
  [['left', true], ['left', false], ['right', true], ['right', false]].forEach(([pos, major]) => {
    const ax = Object.assign(baseAxis(), {
      type: 'value', gridIndex: gi, position: pos, min: -60, max: 90, interval: major ? 20 : 5,
      axisTick: {show: true, inside: true, length: major ? 13 : 7, lineStyle: {color: major ? '#222' : '#888', width: 1}},
      axisLabel: {show: false}
    });
    if (pos === 'left' && major) {
      ax.axisLabel = Object.assign({show: true, margin: 7, showMaxLabel: false, showMinLabel: true,
        formatter: v => (v > 80 ? '' : String(Math.round(v)))}, lblStyle);
      ax.name = names[gi];
      ax.nameLocation = 'middle';
      ax.nameRotate = 90;
      ax.nameGap = 46;
      ax.nameTextStyle = {
        rich: {
          b: {fontFamily: FONT, fontSize: 17, color: '#333'},
          s: {fontFamily: FONT, fontSize: 12, color: '#333', padding: [13, 0, 0, 0]}
        }
      };
    }
    yAxes.push(ax);
  });
});

const series = [];
const panels = [{sets: BR, T: T12}, {sets: BT, T: T12}, {sets: BP, T: T3}];
panels.forEach((p, gi) => {
  p.sets.forEach((arr, k) => {
    const s = {
      type: 'line', name: String(revs[k]), xAxisIndex: 2 * gi, yAxisIndex: 4 * gi,
      data: p.T.map((t, i) => [t, arr[i]]),
      showSymbol: false, symbol: 'none', silent: true, animation: false, clip: true,
      lineStyle: {color: revColors[k], width: Math.max(1, lineWidths[k] * panelWidthScale[gi])}, z: 2
    };
    if (k === 0) {
      s.markLine = {
        silent: true, symbol: ['none', 'none'], label: {show: false}, animation: false,
        data: [
          {xAxis: 0, lineStyle: {color: gi === 2 ? '#000' : '#888', width: 1, type: [2, 3]}},
          {yAxis: 0, lineStyle: {color: gi === 1 ? '#666' : '#000', width: gi === 1 ? 1.5 : 1, type: [9, 6]}}
        ]
      };
    }
    series.push(s);
  });
});
[[modelBr, 0], [modelBt, 1]].forEach(([m, gi]) => {
  series.push({
    type: 'line', xAxisIndex: 2 * gi, yAxisIndex: 4 * gi, data: modelT.map((t, i) => [t, m[i]]),
    showSymbol: false, symbol: 'none', silent: true, animation: false, z: 5,
    lineStyle: {color: '#000', width: 3, type: [9, 4, 3, 4]}
  });
});

// ---------- text graphics ----------
const richCols = {};
revColors.forEach((c, i) => { richCols['c' + i] = {fill: c, fontSize: 17.5, fontFamily: FONT}; });
const graphics = [
  {type: 'text', x: 100, y: 16, style: {text: 'Rev numbers:', fill: '#000', font: 'bold 17px ' + FONT, textAlign: 'left', textVerticalAlign: 'middle', align: 'left', verticalAlign: 'middle'}},
  {type: 'text', x: 100, y: 42, style: {text: revs.map((r, i) => '{c' + i + '|' + r + '}').join(' '), rich: richCols, fill: '#000', font: '17.5px ' + FONT, textAlign: 'left', textVerticalAlign: 'middle', align: 'left', verticalAlign: 'middle'}}
];
const rowLabels = [['Time from', 963], ['Periapsis [h]', 980], ['{n|R [R}{s|S}{n|]}', 1003], ['Lat [deg]', 1026], ['LT [dec h]', 1049]];
rowLabels.forEach(([txt, y]) => {
  graphics.push({type: 'text', x: 14, y: y, style: {
    text: txt, fill: '#333', font: '17px ' + FONT, textAlign: 'left', textVerticalAlign: 'middle', align: 'left', verticalAlign: 'middle',
    rich: {n: {fill: '#333', fontSize: 17, fontFamily: FONT}, s: {fill: '#333', fontSize: 11, fontFamily: FONT, padding: [10, 0, 0, 0]}}
  }});
});

chart.setOption({
  backgroundColor: '#fff',
  animation: false,
  grid: grids,
  xAxis: xAxes,
  yAxis: yAxes,
  series: series,
  graphic: graphics
});
</script></body></html>
